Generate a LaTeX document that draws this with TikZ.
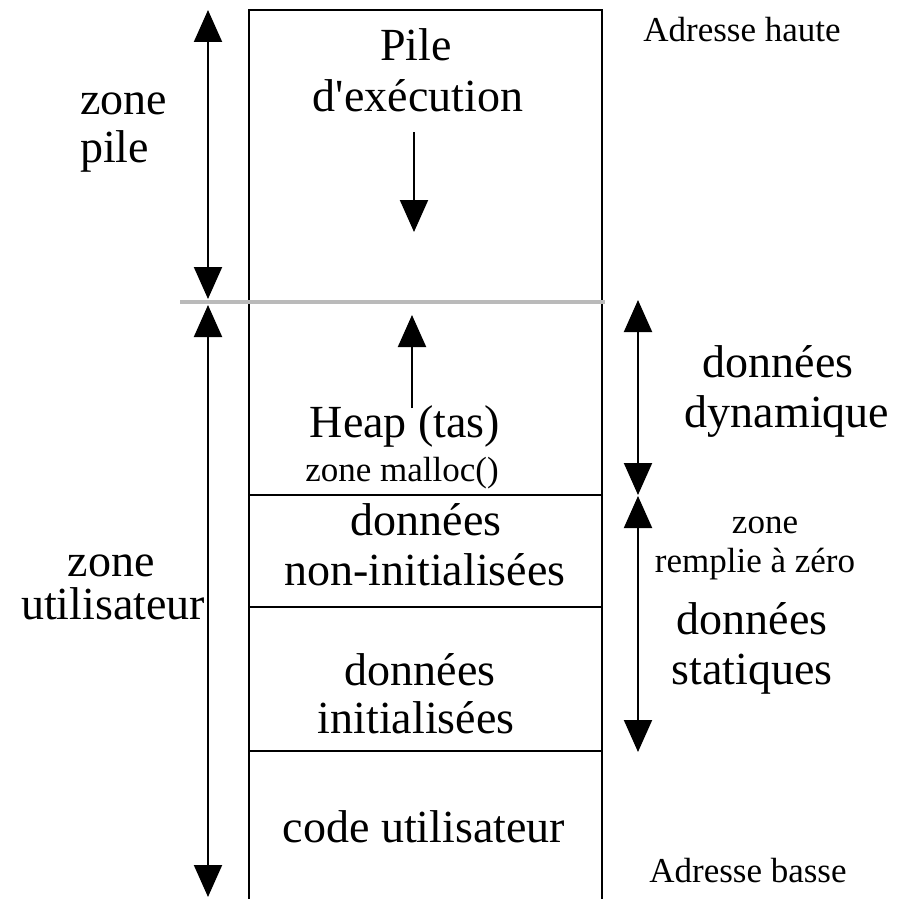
\documentclass[tikz,border=0pt]{standalone}
\usepackage{fontspec}
\setmainfont{Liberation Serif}
% same face without TeX ligature mapping, for a straight apostrophe
\newfontfamily\rawserif{Liberation Serif}
\usetikzlibrary{arrows.meta}
\begin{document}
\begin{tikzpicture}[x=1pt,y=-1pt,
  big/.style={font=\fontsize{46}{50}\selectfont, inner sep=0pt, anchor=base},
  small/.style={font=\fontsize{35}{40}\selectfont, inner sep=0pt, anchor=base},
  wall/.style={line width=2pt},
  extentarrow/.style={line width=2pt, {Triangle[length=32pt,width=28pt]}-{Triangle[length=32pt,width=28pt]}},
  growarrow/.style={line width=2pt, -{Triangle[length=32pt,width=28pt]}}]
\useasboundingbox (0,0) rectangle (897,899);

% memory column: two walls, a lid and the section boundaries
\coordinate (tl) at (249,10);
\coordinate (tr) at (602,10);
\coordinate (bl) at (249,899);
\coordinate (br) at (602,899);
\draw[wall] (bl) -- (tl) -- (tr) -- (br);
\coordinate (h1l) at (249,495); \coordinate (h1r) at (602,495);
\coordinate (h2l) at (249,607); \coordinate (h2r) at (602,607);
\coordinate (h3l) at (249,751); \coordinate (h3r) at (602,751);
\draw[wall] (h1l) -- (h1r);
\draw[wall] (h2l) -- (h2r);
\draw[wall] (h3l) -- (h3r);

% boundary between stack zone and user zone
\coordinate (gl) at (180,302);
\coordinate (gr) at (605,302);
\draw[line width=4pt, color=black!27] (gl) -- (gr);

% extent arrows on the left
\coordinate (ls1) at (208,10);
\coordinate (ls2) at (208,299);
\coordinate (lu1) at (208,305);
\coordinate (lu2) at (208,897);
\draw[extentarrow] (ls1) -- (ls2);
\draw[extentarrow] (lu1) -- (lu2);

% extent arrows on the right
\coordinate (rd1) at (638,300);
\coordinate (rd2) at (638,495);
\coordinate (rs1) at (638,496);
\coordinate (rs2) at (638,752);
\draw[extentarrow] (rd1) -- (rd2);
\draw[extentarrow] (rs1) -- (rs2);

% growth directions of stack and heap
\coordinate (pa1) at (414,132);
\coordinate (pa2) at (414,232);
\draw[growarrow] (pa1) -- (pa2);
\coordinate (ha1) at (412,408);
\coordinate (ha2) at (412,315);
\draw[growarrow] (ha1) -- (ha2);

% labels inside the column
\node[big] (pile1) at (416,60) {Pile};
\node[big] (pile2) at (418,111) {d{\rawserif\char"27}exécution};
\node[big] (heap) at (405,437) {Heap (tas)};
\node[small] (malloc) at (402,481) {zone malloc()};
\node[big] (nid1) at (426,535) {données};
\node[big] (nid2) at (425,585) {non-initialisées};
\node[big] (id1) at (420,685) {données};
\node[big] (id2) at (416,733) {initialisées};
\node[big] (code) at (424,842) {code utilisateur};

% labels on the left
\node[big, anchor=base west] (zp1) at (80,114) {zone};
\node[big, anchor=base west] (zp2) at (80,162) {pile};
\node[big] (zu1) at (111,576) {zone};
\node[big] (zu2) at (113,619) {utilisateur};

% labels on the right
\node[small] (haut) at (742,42) {Adresse haute};
\node[small] (bas) at (748,882) {Adresse basse};
\node[big] (dd1) at (778,377) {données};
\node[big] (dd2) at (787,427) {dynamique};
\node[small] (zr1) at (765,533) {zone};
\node[small] (zr2) at (755,572) {remplie à zéro};
\node[big] (ds1) at (752,634) {données};
\node[big] (ds2) at (752,684) {statiques};
\end{tikzpicture}
\end{document}
